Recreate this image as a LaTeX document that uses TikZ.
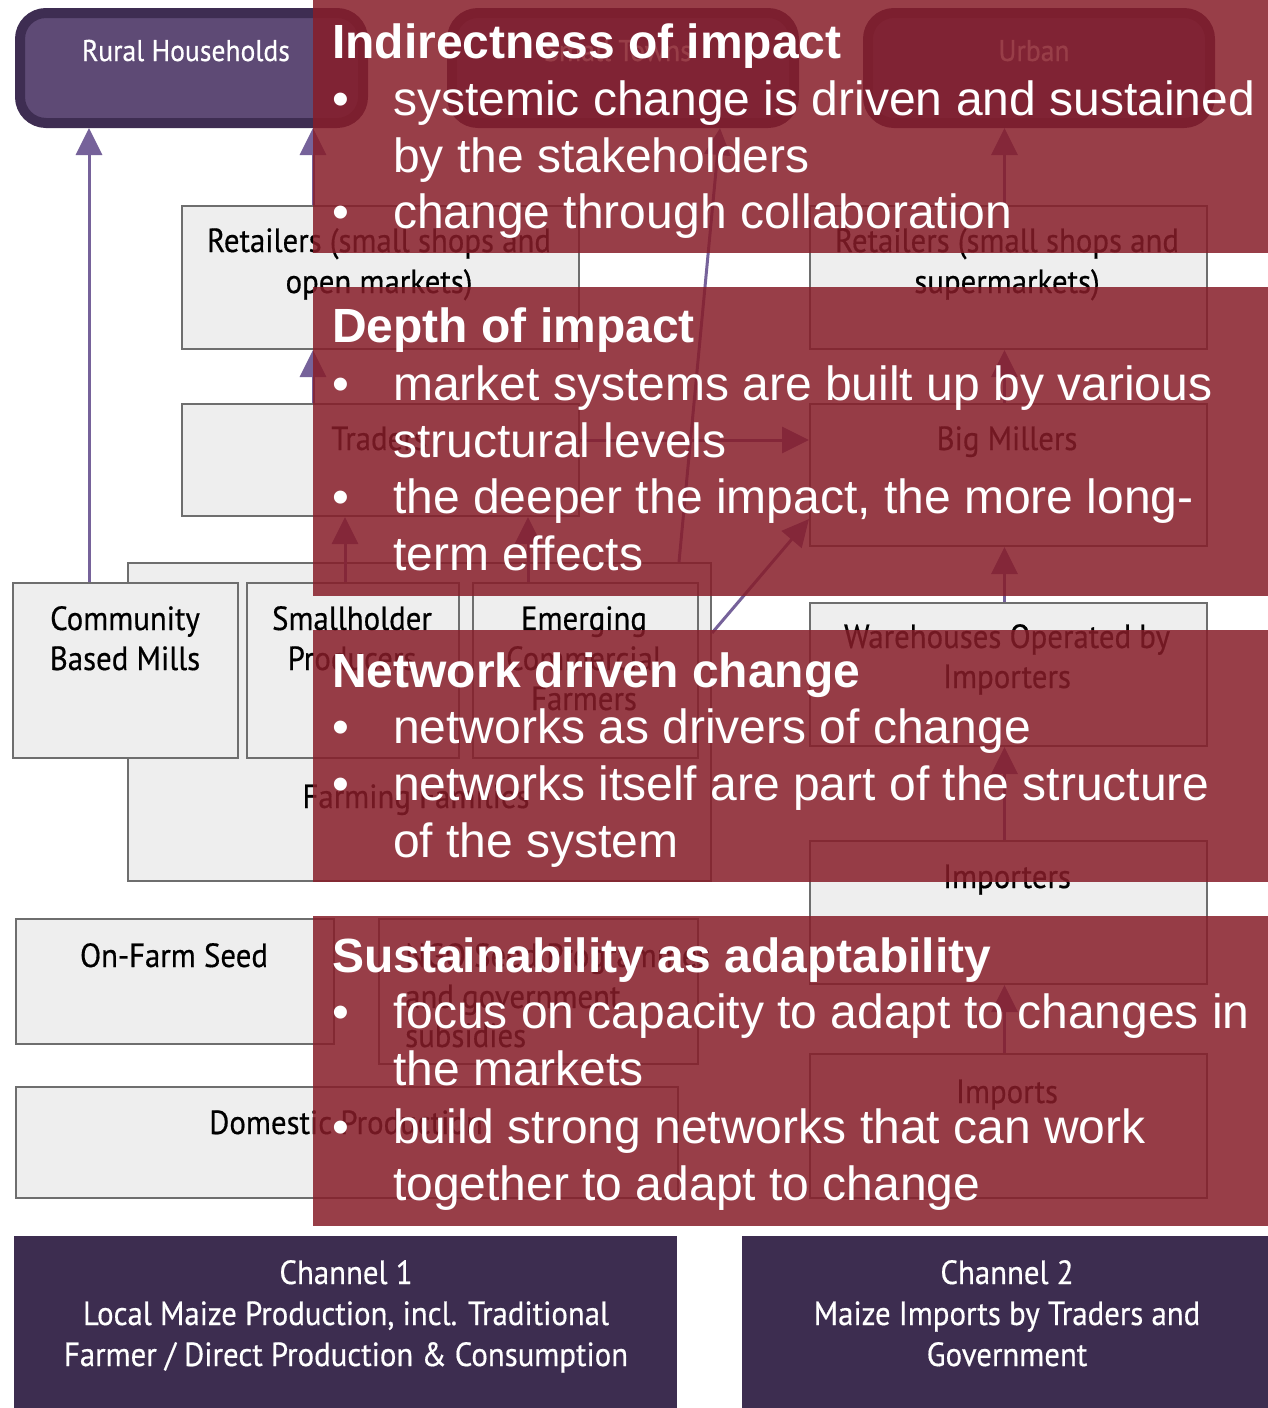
\documentclass[tikz,border=0pt]{standalone}
\usepackage{fontspec}
\setmainfont{Liberation Sans}
\newfontfamily\gill[FakeStretch=0.92,FakeBold=0.5]{PT Sans}
\usetikzlibrary{arrows.meta,calc}
\definecolor{chan}{RGB}{61,45,80}
\definecolor{rhfill}{RGB}{94,74,117}
\definecolor{rhline}{RGB}{62,45,82}
\definecolor{boxfill}{RGB}{238,238,238}
\definecolor{boxline}{RGB}{110,110,110}
\definecolor{arrcol}{RGB}{118,98,154}
\definecolor{ovl}{RGB}{135,29,41}
\begin{document}
\begin{tikzpicture}[x=1pt,y=-1pt,
  consumer/.style={draw=rhline, line width=10pt, fill=rhfill, rounded corners=26pt, minimum width=343pt, minimum height=110pt, anchor=north west, inner sep=0pt},
  gbox/.style={draw=boxline, line width=2pt, fill=boxfill, anchor=north west, inner sep=0pt},
  chbox/.style={fill=chan, anchor=north west, inner sep=0pt},
  gtxt/.style={font=\gill\fontsize{33.5}{40}\selectfont, anchor=base, inner sep=0pt, text=black},
  wtxt/.style={gtxt, text=white},
  ctxt/.style={font=\gill\fontsize{30}{40}\selectfont, anchor=base, inner sep=0pt, text=white},
  arr/.style={draw=arrcol, line width=3pt, -{Triangle[length=27pt,width=26pt]}},
  ovbox/.style={fill=ovl, fill opacity=0.85, draw=none, anchor=north west, inner sep=0pt},
  head/.style={font=\bfseries\fontsize{48}{57}\selectfont, text=white, anchor=base west, inner sep=0pt},
  btxt/.style={font=\fontsize{48}{57}\selectfont, text=white, anchor=base west, inner sep=0pt},
]
\useasboundingbox (0,0) rectangle (1268,1408);
\fill[white] (0,0) rectangle (1268,1408);

% consumers
\node[consumer] (rh) at (15,8) {};
\node[consumer, minimum width=342pt] (mt) at (447,8) {};
\node[consumer, minimum width=342pt] (urb) at (863,8) {};
\node[ctxt] (rht) at (186,61) {Rural Households};
\node[ctxt] (mtt) at (618,61) {Small Towns};
\node[ctxt] (urbt) at (1034,61) {Urban};

% grey boxes
\node[gbox, minimum width=397pt, minimum height=143pt] (ret1) at (181,205) {};
\node[gbox, minimum width=397pt, minimum height=143pt] (ret2) at (809,205) {};
\node[gbox, minimum width=397pt, minimum height=112pt] (trd) at (181,403) {};
\node[gbox, minimum width=397pt, minimum height=142pt] (bm) at (809,403) {};
\node[gbox, minimum width=583pt, minimum height=318pt] (ff) at (127,562) {};
\node[gbox, minimum width=225pt, minimum height=175pt] (cbm) at (12,582) {};
\node[gbox, minimum width=212pt, minimum height=175pt] (sh) at (246,582) {};
\node[gbox, minimum width=225pt, minimum height=175pt] (ecf) at (472,582) {};
\node[gbox, minimum width=397pt, minimum height=143pt] (wh) at (809,602) {};
\node[gbox, minimum width=397pt, minimum height=143pt] (imp) at (809,840) {};
\node[gbox, minimum width=397pt, minimum height=144pt] (imps) at (809,1053) {};
\node[gbox, minimum width=318pt, minimum height=125pt] (ofs) at (15,918) {};
\node[gbox, minimum width=319pt, minimum height=145pt] (ngo) at (378,918) {};
\node[gbox, minimum width=662pt, minimum height=111pt] (dom) at (15,1086) {};
\node[chbox, minimum width=663pt, minimum height=180pt] (ch1) at (14,1236) {};
\node[chbox, minimum width=530pt, minimum height=180pt] (ch2) at (742,1236) {};

% grey box texts
\node[gtxt] (ret1a) at (379,252) {Retailers (small shops and};
\node[gtxt] (ret1b) at (379,293) {open markets)};
\node[gtxt] (ret2a) at (1007,252) {Retailers (small shops and};
\node[gtxt] (ret2b) at (1007,293) {supermarkets)};
\node[gtxt] (trdt) at (379,450) {Traders};
\node[gtxt] (bmt) at (1007,450) {Big Millers};
\node[gtxt] (cbma) at (125,630) {Community};
\node[gtxt] (cbmb) at (125,670) {Based Mills};
\node[gtxt] (sha) at (352,630) {Smallholder};
\node[gtxt] (shb) at (352,670) {Producers};
\node[gtxt] (ecfa) at (584,630) {Emerging};
\node[gtxt] (ecfb) at (584,670) {Commercial};
\node[gtxt] (ecfc) at (584,710) {Farmers};
\node[gtxt] (fft) at (416,808) {Farming Families};
\node[gtxt] (wha) at (1007,648) {Warehouses Operated by};
\node[gtxt] (whb) at (1007,688) {Importers};
\node[gtxt] (impt) at (1007,888) {Importers};
\node[gtxt] (impst) at (1007,1103) {Imports};
\node[gtxt] (ofst) at (174,967) {On-Farm Seed};
\node[gtxt, anchor=base west] (ngoa) at (405,967) {NGO Seed Programmes};
\node[gtxt, anchor=base west] (ngob) at (405,1008) {and government};
\node[gtxt, anchor=base west] (ngoc) at (405,1047) {subsidies};
\node[gtxt] (domt) at (346,1134) {Domestic Production};
\node[wtxt] (ch1a) at (346,1284) {Channel 1};
\node[wtxt] (ch1b) at (346,1325) {Local Maize Production, incl. Traditional};
\node[wtxt] (ch1c) at (346,1366) {Farmer / Direct Production \& Consumption};
\node[wtxt] (ch2a) at (1007,1284) {Channel 2};
\node[wtxt] (ch2b) at (1007,1325) {Maize Imports by Traders and};
\node[wtxt] (ch2c) at (1007,1366) {Government};

% arrows
\draw[arr] ([xshift=77pt]cbm.north west) -- ([xshift=77pt]cbm.north west |- rh.south);
\draw[arr] ([xshift=132pt]ret1.north west) -- ([xshift=132pt]ret1.north west |- rh.south);
\draw[arr] ([xshift=132pt]trd.north west) -- ([xshift=132pt]trd.north west |- ret1.south);
\draw[arr] ([yshift=-37pt]trd.north east) -- ([yshift=-37pt]trd.north east -| bm.west);
\draw[arr] ([xshift=99pt]sh.north west) -- ([xshift=99pt]sh.north west |- trd.south);
\draw[arr] ([xshift=56pt]ecf.north west) -- ([xshift=56pt]ecf.north west |- trd.south);
\draw[arr] ([xshift=-33pt]ff.north east) -- ([xshift=-79pt]mt.south east);
\draw[arr] ([yshift=-71pt]ff.north east) -- ([yshift=28pt]bm.south west);
\draw[arr] ([xshift=-4pt]wh.north) -- ([xshift=-4pt]wh.north |- bm.south);
\draw[arr] ([xshift=-4pt]imp.north) -- ([xshift=-4pt]imp.north |- wh.south);
\draw[arr] ([xshift=-4pt]imps.north) -- ([xshift=-4pt]imps.north |- imp.south);
\draw[arr] ([xshift=-4pt]bm.north) -- ([xshift=-4pt]bm.north |- ret2.south);
\draw[arr] ([xshift=-4pt]ret2.north) -- ([xshift=-4pt]ret2.north |- urb.south);

% overlays
\node[ovbox, minimum width=955pt, minimum height=253pt] (ov1) at (313,0) {};
\node[ovbox, minimum width=955pt, minimum height=309pt] (ov2) at (313,287) {};
\node[ovbox, minimum width=955pt, minimum height=252pt] (ov3) at (313,630) {};
\node[ovbox, minimum width=955pt, minimum height=310pt] (ov4) at (313,916) {};

\node[head] (h1) at (332,58) {Indirectness of impact};
\node[btxt] (b1a) at (332,115) {\textbullet};
\node[btxt] (t1a) at (393,115) {systemic change is driven and sustained};
\node[btxt] (t1b) at (393,172) {by the stakeholders};
\node[btxt] (b1c) at (332,228) {\textbullet};
\node[btxt] (t1c) at (393,228) {change through collaboration};

\node[head] (h2) at (332,342) {Depth of impact};
\node[btxt] (b2a) at (332,400) {\textbullet};
\node[btxt] (t2a) at (393,400) {market systems are built up by various};
\node[btxt] (t2b) at (393,457) {structural levels};
\node[btxt] (b2c) at (332,513) {\textbullet};
\node[btxt] (t2c) at (393,513) {the deeper the impact, the more long-};
\node[btxt] (t2d) at (393,570) {term effects};

\node[head] (h3) at (332,687) {Network driven change};
\node[btxt] (b3a) at (332,743) {\textbullet};
\node[btxt] (t3a) at (393,743) {networks as drivers of change};
\node[btxt] (b3b) at (332,800) {\textbullet};
\node[btxt] (t3b) at (393,800) {networks itself are part of the structure};
\node[btxt] (t3c) at (393,857) {of the system};

\node[head] (h4) at (332,972) {Sustainability as adaptability};
\node[btxt] (b4a) at (332,1028) {\textbullet};
\node[btxt] (t4a) at (393,1028) {focus on capacity to adapt to changes in};
\node[btxt] (t4b) at (393,1085) {the markets};
\node[btxt] (b4c) at (332,1143) {\textbullet};
\node[btxt] (t4c) at (393,1143) {build strong networks that can work};
\node[btxt] (t4d) at (393,1200) {together to adapt to change};
\end{tikzpicture}
\end{document}
